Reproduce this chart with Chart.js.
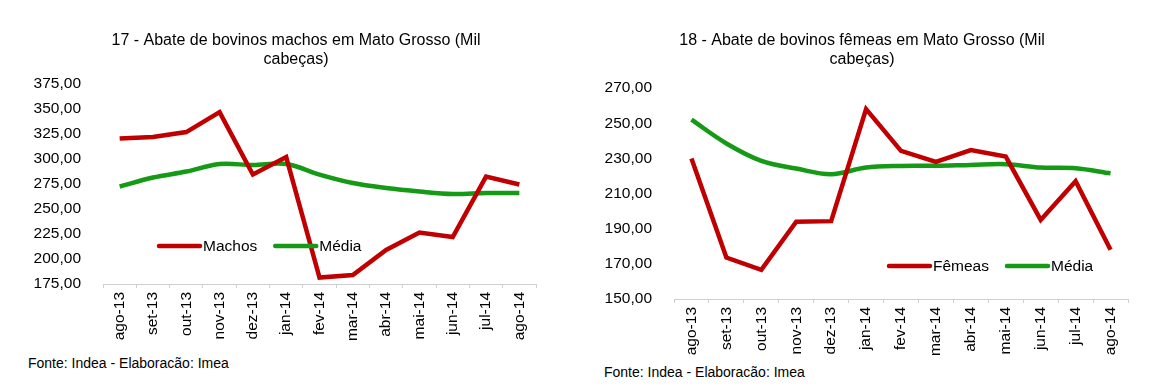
<!DOCTYPE html>
<html>
<head>
<meta charset="utf-8">
<script src="https://cdn.jsdelivr.net/npm/chart.js@4.4.1/dist/chart.umd.min.js"></script>
<style>
  body { margin: 0; background: #fff; width: 1155px; height: 388px; position: relative; overflow: hidden; font-family: "Liberation Sans", Arial, sans-serif; }
  .box { position: absolute; }
  .fonte { position: absolute; font-size: 14px; color: #000; }
</style>
</head>
<body>
<div class="box" style="left:20px;top:0;width:560px;height:350px"><canvas id="graficoMachos"></canvas></div>
<div class="box" style="left:580px;top:0;width:564px;height:362px"><canvas id="graficoFemeas"></canvas></div>
<div class="fonte" style="left:28px;top:355px">Fonte: Indea - Elaboracão: Imea</div>
<div class="fonte" style="left:604px;top:364px">Fonte: Indea - Elaboracão: Imea</div>
<script>
const meses = ['ago-13', 'set-13', 'out-13', 'nov-13', 'dez-13', 'jan-14', 'fev-14', 'mar-14', 'abr-14', 'mai-14', 'jun-14', 'jul-14', 'ago-14']

const machos = [320.5, 322, 327, 347, 284.5, 302, 181.5, 184, 209, 226.5, 222, 282.5, 274.5]
const mediaMachos = [272.5, 281.5, 287.5, 295, 294, 295, 284.5, 276, 271, 267.5, 265, 266, 266]

const femeas = [230, 173.6, 166.6, 194, 194.3, 258, 234.3, 228, 234.7, 231, 195, 217, 178]
const mediaFemeas = [252, 238.5, 228.6, 224.2, 221, 224.8, 225.7, 225.8, 226.3, 226.7, 224.8, 224.4, 221.5]

const vermelho = '#c00000'
const verde = '#159a15'
const fonte = 'Liberation Sans'

// legenda desenhada dentro da area do grafico
const legendaInterna = {
    id: 'legendaInterna',
    afterLayout(chart, args, opts) {
        // empurra o titulo um pouco para a direita
        chart.titleBlock.left += opts.desloca * 2
    },
    afterDatasetsDraw(chart, args, opts) {
        const ctx = chart.ctx
        const area = chart.chartArea
        let x = area.left + opts.x
        const y = area.top + opts.y
        ctx.save()
        ctx.font = '15.5px "' + fonte + '"'
        ctx.textBaseline = 'middle'
        chart.data.datasets.forEach((ds) => {
            ctx.strokeStyle = ds.borderColor
            ctx.lineWidth = 4.5
            ctx.lineCap = 'round'
            ctx.beginPath()
            ctx.moveTo(x, y)
            ctx.lineTo(x + 41, y)
            ctx.stroke()
            ctx.fillStyle = '#000'
            ctx.fillText(ds.label, x + 44, y + 1)
            x += 44 + ctx.measureText(ds.label).width + opts.gap
        })
        ctx.restore()
    }
}

function formata(v) {
    return v.toFixed(2).replace('.', ',')
}

function criaGrafico(id, titulo, nomeSerie, serie, media, min, max, passo, legenda, larguraY, alturaX, espacoTitulo, padding) {
    return new Chart(document.getElementById(id), {
        type: 'line',
        data: {
            labels: meses,
            datasets: [{
                label: nomeSerie,
                data: serie,
                borderColor: vermelho,
                backgroundColor: vermelho,
                borderWidth: 4.5,
                pointRadius: 0,
                tension: 0
            }, {
                label: 'Média',
                data: media,
                borderColor: verde,
                backgroundColor: verde,
                borderWidth: 4.5,
                pointRadius: 0,
                tension: 0.35
            }]
        },
        options: {
            responsive: true,
            maintainAspectRatio: false,
            animation: false,
            layout: { padding: padding },
            plugins: {
                legend: { display: false },
                tooltip: { enabled: false },
                title: {
                    display: true,
                    text: titulo,
                    color: '#000',
                    font: { family: fonte, size: 16, weight: 'normal', lineHeight: 1.19 },
                    padding: { top: 0, bottom: espacoTitulo }
                },
                legendaInterna: legenda
            },
            scales: {
                x: {
                    offset: true,
                    afterFit: (escala) => { escala.height = alturaX },
                    grid: { offset: true, drawOnChartArea: false, drawTicks: true, tickLength: 4, color: '#d0d0d0' },
                    border: { display: true, color: '#d0d0d0' },
                    ticks: { color: '#000', font: { family: fonte, size: 15.5 }, minRotation: 90, maxRotation: 90, padding: 4 }
                },
                y: {
                    min: min,
                    max: max,
                    afterFit: (escala) => { escala.width = larguraY },
                    grid: { display: false },
                    border: { display: false },
                    ticks: { stepSize: passo, color: '#000', font: { family: fonte, size: 15.5 }, padding: 14, callback: (v) => formata(v) }
                }
            }
        },
        plugins: [legendaInterna]
    })
}

criaGrafico('graficoMachos', ['17 - Abate de bovinos machos em Mato Grosso (Mil', 'cabeças)'],
    'Machos', machos, mediaMachos, 175, 375, 25,
    { x: 56, y: 162, gap: 18, desloca: 18 }, 83, 66, 15,
    { top: 31, left: 0, right: 44, bottom: 0 })

criaGrafico('graficoFemeas', ['18 - Abate de bovinos fêmeas em Mato Grosso (Mil', 'cabeças)'],
    'Fêmeas', femeas, mediaFemeas, 150, 270, 20,
    { x: 215, y: 178, gap: 18, desloca: 8 }, 94, 63, 19,
    { top: 31, left: 0, right: 16, bottom: 0 })
</script>
</body>
</html>
